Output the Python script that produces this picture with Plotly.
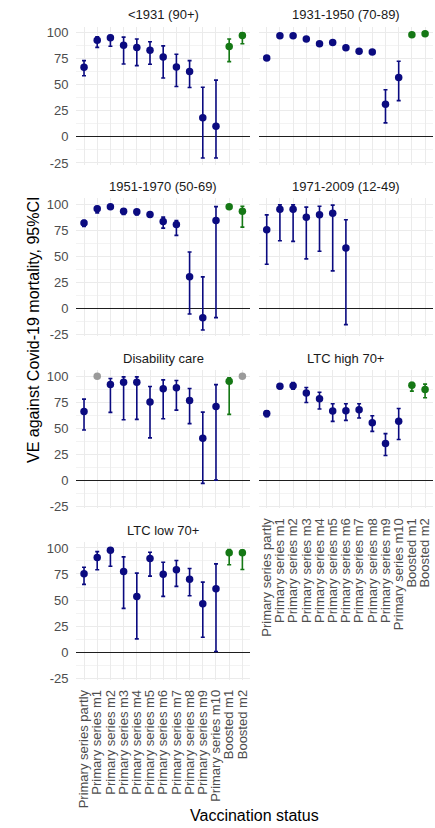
import plotly.graph_objects as go

# ---------------- data ----------------
categories = [
    "Primary series partly", "Primary series m1", "Primary series m2",
    "Primary series m3", "Primary series m4", "Primary series m5",
    "Primary series m6", "Primary series m7", "Primary series m8",
    "Primary series m9", "Primary series m10", "Boosted m1", "Boosted m2",
]

panel_titles = [
    "<1931 (90+)", "1931-1950 (70-89)", "1951-1970 (50-69)",
    "1971-2009 (12-49)", "Disability care", "LTC high 70+", "LTC low 70+",
]

ve_1931 = [66.8, 92.9, 95.2, 88.0, 85.8, 83.2, 76.8, 67.0, 62.9, 18.4, 10.3, 86.8, 97.4]
lo_1931 = [58.7, 86.0, 87.0, 70.0, 68.4, 69.7, 56.5, 48.4, 47.4, -20.3, -20.3, 72.3, 89.4]
hi_1931 = [73.2, 96.0, 97.4, 95.8, 94.0, 91.3, 87.4, 79.4, 73.2, 47.7, 54.5, 94.0, 100.0]

ve_1950 = [75.8, 97.1, 97.1, 93.9, 89.4, 90.6, 85.5, 82.3, 81.6, 31.3, 57.1, 98.1, 99.0]
lo_1950 = [74.5, 96.5, 96.5, 93.0, 88.3, 89.6, 84.3, 81.0, 80.2, 13.5, 34.8, 97.6, 98.6]
hi_1950 = [77.0, 97.6, 97.6, 94.7, 90.4, 91.5, 86.6, 83.5, 82.9, 45.2, 72.6, 98.5, 99.3]

ve_1970 = [82.2, 95.9, 97.8, 93.6, 93.0, 90.4, 83.8, 80.9, 30.6, -8.6, 84.7, 97.8, 93.6]
lo_1970 = [79.0, 92.0, 96.5, 90.4, 90.1, 87.9, 77.4, 70.4, -5.1, -20.4, -8.6, 97.0, 78.3]
hi_1970 = [84.7, 98.0, 98.8, 95.9, 95.0, 92.4, 87.9, 84.7, 54.5, 30.6, 98.0, 98.5, 98.4]

ve_2009 = [75.8, 95.5, 95.5, 87.9, 90.1, 91.7, 58.3, None, None, None, None, None, None]
lo_2009 = [42.7, 65.3, 64.6, 47.8, 55.1, 36.3, -15.3, None, None, None, None, None, None]
hi_2009 = [90.1, 99.7, 99.7, 97.5, 98.4, 99.4, 85.4, None, None, None, None, None, None]

ve_dis = [66.2, 100.0, 92.0, 94.3, 94.3, 75.2, 87.9, 88.9, 76.8, 40.4, 71.0, 95.2, 100.0]
lo_dis = [48.4, None, 65.3, 58.3, 58.6, 40.8, 59.2, 67.5, 54.5, -2.9, 0.3, 63.4, None]
hi_dis = [78.0, None, 97.8, 99.4, 99.4, 90.1, 96.5, 95.9, 88.2, 65.6, 92.0, 98.4, None]

ve_ltch = [64.3, 90.4, 90.8, 83.8, 78.3, 66.6, 66.9, 67.8, 55.4, 35.4, 56.7, 91.4, 87.3]
lo_ltch = [61.1, 88.2, 87.6, 74.8, 68.5, 56.7, 57.6, 59.9, 47.1, 23.9, 39.2, 85.7, 79.3]
hi_ltch = [66.9, 92.7, 93.9, 89.2, 84.7, 73.6, 73.6, 73.6, 62.1, 44.9, 69.1, 93.9, 92.4]

ve_ltcl = [75.2, 90.8, 97.8, 77.4, 53.5, 89.8, 74.8, 79.0, 70.0, 46.5, 60.8, 95.5, 95.5]
lo_ltcl = [65.0, 79.0, 82.5, 42.0, 12.7, 72.9, 53.5, 63.1, 54.1, 14.3, 0.6, 83.8, 79.3]
hi_ltcl = [81.5, 96.5, 100.0, 91.4, 75.8, 95.9, 86.3, 87.9, 80.3, 67.2, 84.7, 98.5, 98.0]

y_tick_vals = [-25, 0, 25, 50, 75, 100]
y_tick_text = ["-25", "0", "25", "50", "75", "100"]

panels = [
    (ve_1931, lo_1931, hi_1931), (ve_1950, lo_1950, hi_1950),
    (ve_1970, lo_1970, hi_1970), (ve_2009, lo_2009, hi_2009),
    (ve_dis, lo_dis, hi_dis), (ve_ltch, lo_ltch, hi_ltch),
    (ve_ltcl, lo_ltcl, hi_ltcl),
]

# ---------------- style / layout ----------------
W, H = 435, 828
FONT = "Liberation Sans, Arial, Helvetica, sans-serif"
NAVY = "#0b0b80"
GREEN = "#157815"
GRAY = "#9a9a9a"
col_x = [(76.1, 250.3), (258.8, 433.0)]
row_top = [26.5, 198.3, 370.0, 541.7]
panel_h = 138.0
y_range = [-26.5, 106.0]
x_range = [-0.6, len(categories) - 0.4]


def group_of(cat, v, l):
    if v is None:
        return None
    if l is None:
        return "gray"
    if cat.startswith("Boosted"):
        return "green"
    return "navy"


fig = go.Figure()
layout = dict(
    width=W, height=H,
    margin=dict(l=0, r=0, t=0, b=0),
    paper_bgcolor="white", plot_bgcolor="white",
    showlegend=False,
    font=dict(family=FONT, size=13, color="#4d4d4d"),
)
annotations = []

for i, (title, (ve, lo, hi)) in enumerate(zip(panel_titles, panels)):
    r, c = divmod(i, 2)
    suf = "" if i == 0 else str(i + 1)
    x0, x1 = col_x[c]
    top = row_top[r]
    xdom = [x0 / W, x1 / W]
    ydom = [1 - (top + panel_h) / H, 1 - top / H]

    for grp, color in (("navy", NAVY), ("green", GREEN), ("gray", GRAY)):
        ys, plus, minus = [], [], []
        for cat, v, l, h in zip(categories, ve, lo, hi):
            if group_of(cat, v, l) == grp:
                ys.append(v)
                plus.append(h - v if h is not None else 0)
                minus.append(v - l if l is not None else 0)
            else:
                ys.append(None)
                plus.append(None)
                minus.append(None)
        if all(y is None for y in ys):
            continue
        fig.add_trace(go.Scatter(
            x=categories, y=ys, mode="markers",
            marker=dict(color=color, size=7.5),
            error_y=dict(type="data", symmetric=False, array=plus,
                         arrayminus=minus, color=color, thickness=1.6,
                         width=2, visible=(grp != "gray")),
            xaxis="x" + suf, yaxis="y" + suf, cliponaxis=False,
            hoverinfo="x+y",
        ))

    show_x = i in (5, 6)
    layout["xaxis" + suf] = dict(
        domain=xdom, anchor="y" + suf, type="category",
        categoryorder="array", categoryarray=categories,
        tickmode="array", tickvals=categories, ticktext=categories,
        range=x_range, showgrid=True, gridcolor="#ebebeb", gridwidth=1,
        zeroline=False, showline=False, automargin=False,
        showticklabels=show_x, tickangle=-90,
        ticks="outside" if show_x else "", ticklen=4,
        tickcolor="rgba(0,0,0,0)",
        tickfont=dict(family=FONT, size=13, color="#4d4d4d"),
        fixedrange=True,
    )
    layout["yaxis" + suf] = dict(
        domain=ydom, anchor="x" + suf, range=y_range,
        tickmode="array", tickvals=y_tick_vals, ticktext=y_tick_text,
        showgrid=True, gridcolor="#ebebeb", gridwidth=1,
        minor=dict(tickvals=[-12.5, 12.5, 37.5, 62.5, 87.5], showgrid=True,
                   gridcolor="#f3f3f3", gridwidth=0.7, ticks=""),
        zeroline=True, zerolinecolor="#1e1e1e", zerolinewidth=1.3,
        showline=False, automargin=False,
        showticklabels=(c == 0), ticks="outside" if c == 0 else "",
        ticklen=4, tickcolor="rgba(0,0,0,0)",
        tickfont=dict(family=FONT, size=13, color="#4d4d4d"),
        fixedrange=True,
    )
    annotations.append(dict(
        text=title, xref="paper", yref="paper",
        x=(x0 + x1) / 2 / W, y=1 - (top - 11.5) / H,
        xanchor="center", yanchor="middle", showarrow=False,
        font=dict(family=FONT, size=13, color="#1a1a1a"),
    ))

annotations.append(dict(
    text="VE against Covid-19 mortality, 95%CI", xref="paper", yref="paper",
    x=33 / W, y=1 - 330 / H, textangle=-90, xanchor="center", yanchor="middle",
    showarrow=False, font=dict(family=FONT, size=16, color="#000000"),
))
annotations.append(dict(
    text="Vaccination status", xref="paper", yref="paper",
    x=255 / W, y=1 - 815 / H, xanchor="center", yanchor="middle",
    showarrow=False, font=dict(family=FONT, size=16, color="#000000"),
))
layout["annotations"] = annotations

fig.update_layout(**layout)
fig.write_html(
    "out.html",
    config={"displayModeBar": False, "staticPlot": False},
    post_script="document.body.style.margin='0px';document.body.style.overflow='hidden';",
)
